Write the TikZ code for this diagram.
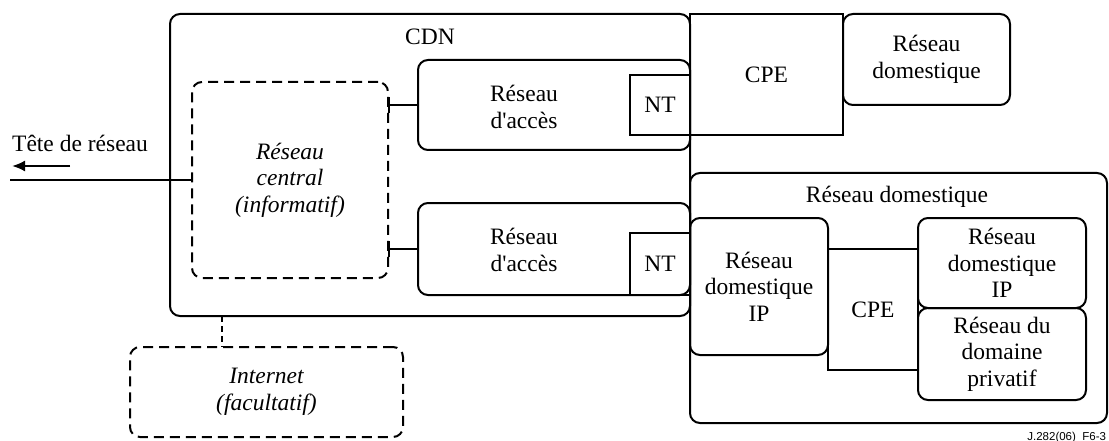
\documentclass[tikz,border=0pt]{standalone}
\usepackage{fontspec}
\setmainfont{Liberation Serif}
\setsansfont{Liberation Sans}
\usetikzlibrary{arrows.meta}
\begin{document}
\begin{tikzpicture}[x=1pt,y=-1pt,
  every node/.style={inner sep=0pt,outer sep=0pt,font=\fontsize{23.5}{26.5}\selectfont,align=center},
  rbox/.style={draw,line width=2pt,rounded corners=10pt},
  sbox/.style={draw,line width=2pt},
  dbox/.style={draw,line width=2pt,rounded corners=10pt,dash pattern=on 10pt off 6pt},
  conn/.style={line width=2pt},
  lbl/.style={}]
\useasboundingbox (0,0) rectangle (1109,441);
% CDN
\node[rbox,minimum width=520pt,minimum height=302pt] (cdn) at (430,165) {};
\node[lbl] (cdnl) at (430,37) {CDN};
% core
\node[dbox,minimum width=196pt,minimum height=196pt] (core) at (290,180) {\itshape Réseau\\\itshape central\\\itshape (informatif)};
% access networks
\node[rbox,minimum width=272pt,minimum height=90pt] (acc1) at (554,105) {};
\node[lbl] (acc1l) at (524,107) {Réseau\\d\textquotesingle accès};
\node[sbox,minimum width=60pt,minimum height=60pt] (nt1) at (660,105) {NT};
\node[rbox,minimum width=272pt,minimum height=92pt] (acc2) at (554,249) {};
\node[lbl] (acc2l) at (524,250) {Réseau\\d\textquotesingle accès};
\node[sbox,minimum width=60pt,minimum height=62pt] (nt2) at (660,264) {NT};
% CPE 1 and home network
\node[sbox,minimum width=153pt,minimum height=121pt] (cpe1) at (766.5,74.5) {CPE};
\node[rbox,minimum width=167pt,minimum height=91pt] (home1) at (926.5,59.5) {Réseau\\domestique};
% big home network
\node[rbox,minimum width=417pt,minimum height=250pt] (home2) at (898.5,298) {};
\node[lbl] (home2l) at (897,197) {Réseau domestique};
\node[rbox,minimum width=138pt,minimum height=137pt] (ipl) at (759,286.5) {Réseau\\domestique\\IP};
\node[sbox,minimum width=90pt,minimum height=121pt] (cpe2) at (873,309.5) {CPE};
\node[rbox,minimum width=168pt,minimum height=90pt] (ipr) at (1002,263) {Réseau\\domestique\\IP};
\node[rbox,minimum width=168pt,minimum height=92pt] (priv) at (1002,354) {Réseau du\\domaine\\privatif};
% Internet
\node[dbox,minimum width=273pt,minimum height=90pt] (inet) at (266.5,392) {\itshape Internet\\\itshape (facultatif)};
% connectors
\draw[conn,{Bar[width=16pt,length=2pt]}-] (core.east |- acc1.west) -- (acc1.west);
\draw[conn,{Bar[width=16pt,length=2pt]}-] (core.east |- acc2.west) -- (acc2.west);
\coordinate (hd) at (10,180);
\draw[conn] (core.west) -- (hd);
\coordinate (arS) at (70,166);
\coordinate (arE) at (12,166);
\draw[conn,-{Latex[length=13pt,width=11pt]}] (arS) -- (arE);
\node[lbl] (hdl) at (80,143) {Tête de réseau};
\draw[conn,dash pattern=on 6pt off 4pt] ([xshift=52pt]cdn.south west) -- ([xshift=92pt]inet.north west);
% caption
\node[font=\sffamily\fontsize{11.5}{13}\selectfont,anchor=south east] (cap) at (1106,443) {J.282(06)\_F6-3};
\end{tikzpicture}
\end{document}
